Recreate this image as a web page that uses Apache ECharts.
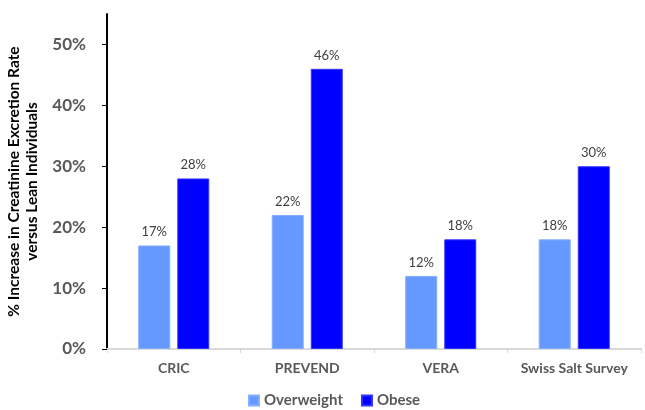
<!DOCTYPE html>
<html>
<head>
<meta charset="utf-8">
<script src="https://cdn.jsdelivr.net/npm/echarts@6/dist/echarts.min.js"></script>
<style>
  html, body { margin: 0; padding: 0; background: #fff; }
  #chart { width: 645px; height: 410px; }
</style>
</head>
<body>
<div id="chart"></div>
<script>
// Study cohorts along the x axis
var studies = ['CRIC', 'PREVEND', 'VERA', 'Swiss Salt Survey'];
// Increase in creatinine excretion rate vs lean individuals (fraction)
var overweight = [0.17, 0.22, 0.12, 0.18];
var obese = [0.28, 0.46, 0.18, 0.30];
// Labelled y ticks
var yTicks = [0, 0.1, 0.2, 0.3, 0.4, 0.5];

var font = 'Lato, "Open Sans", sans-serif';
var pct = function (v) { return Math.round(v * 100) + '%'; };

var labelStyle = {
  show: true,
  position: 'top',
  distance: 7,
  color: '#404040',
  fontFamily: font,
  fontSize: 13,
  formatter: function (p) { return pct(p.value); }
};

var chart = echarts.init(document.getElementById('chart'), null, { renderer: 'canvas' });
chart.setOption({
  animation: false,
  textStyle: { fontFamily: font },
  grid: { left: 107, right: 4, top: 14, bottom: 61, containLabel: false, outerBoundsMode: 'none' },
  legend: {
    top: 388,
    left: 243,
    itemWidth: 10,
    itemHeight: 10,
    itemGap: 18,
    icon: 'rect',
    textStyle: { color: '#595959', fontWeight: 'bold', fontSize: 15, fontFamily: font },
    data: ['Overweight', 'Obese']
  },
  xAxis: {
    type: 'category',
    data: studies,
    axisLine: { lineStyle: { color: '#d9d9d9', width: 2 } },
    axisTick: { show: true, length: 4, lineStyle: { color: '#d9d9d9' } },
    axisLabel: { interval: 0, hideOverlap: false, color: '#595959', fontWeight: 'bold', fontSize: 14, margin: 12, fontFamily: font }
  },
  yAxis: {
    type: 'value',
    min: 0,
    max: 0.55,
    interval: 0.1,
    name: '% Increase in Creatinine Excretion Rate\nversus Lean Individuals',
    nameLocation: 'middle',
    nameGap: 62,
    nameTextStyle: { color: '#000', fontWeight: 'bold', fontSize: 15.5, lineHeight: 18, fontFamily: font },
    axisLine: { show: true, lineStyle: { color: '#000', width: 2 } },
    axisTick: { show: true, length: 5, customValues: yTicks, lineStyle: { color: '#000' } },
    splitLine: { show: false },
    axisLabel: {
      customValues: yTicks,
      color: '#595959',
      fontWeight: 'bold',
      fontSize: 17,
      margin: 21,
      fontFamily: font,
      formatter: pct
    }
  },
  series: [
    {
      name: 'Overweight',
      type: 'bar',
      data: overweight,
      barWidth: 32,
      barGap: '22%',
      itemStyle: { color: '#6699ff', borderColor: '#85adff', borderWidth: 1 },
      label: labelStyle
    },
    {
      name: 'Obese',
      type: 'bar',
      data: obese,
      barWidth: 32,
      itemStyle: { color: '#0000ff', borderColor: '#3333ff', borderWidth: 1 },
      label: labelStyle
    }
  ]
});
</script>
</body>
</html>
